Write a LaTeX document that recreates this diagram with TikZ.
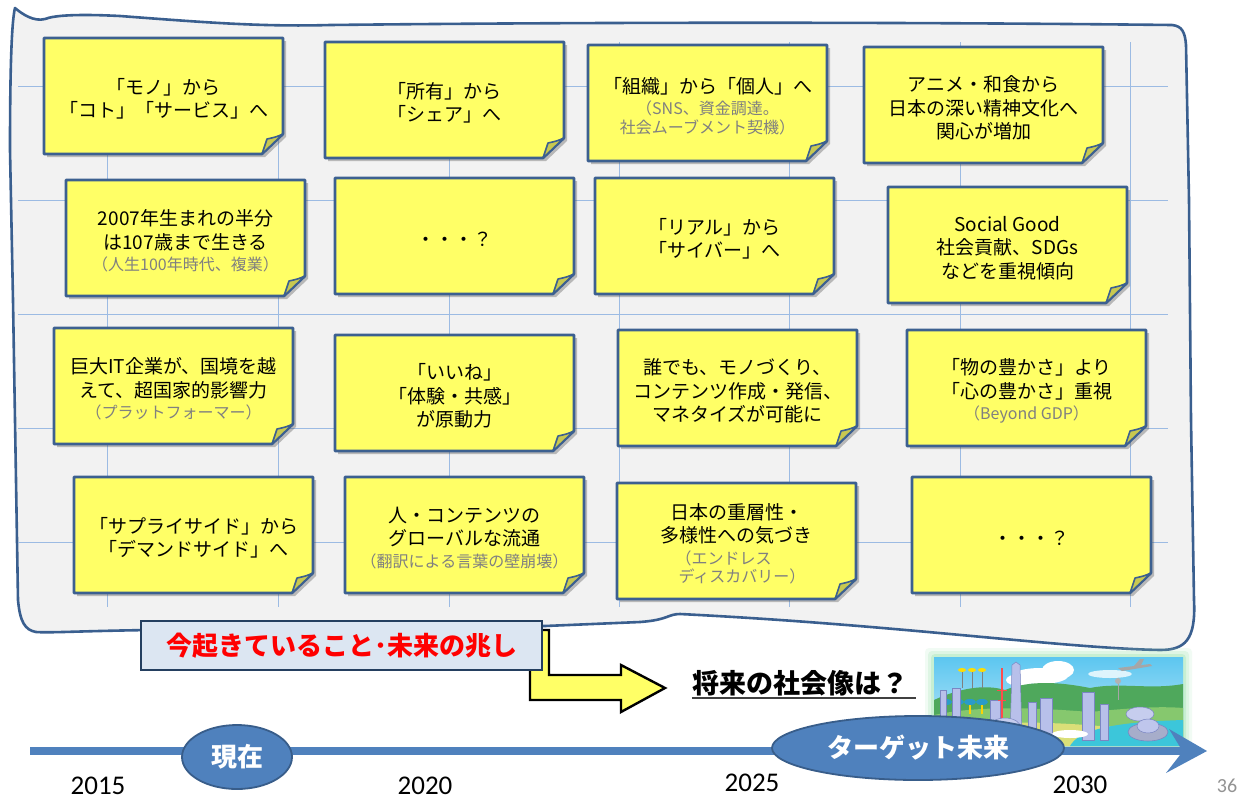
\documentclass[tikz,border=0pt]{standalone}
\usepackage{fontspec}
\setmainfont{Noto Sans CJK JP}
\newfontfamily\yearfont{Carlito}
\usetikzlibrary{shapes.geometric,shadows}

\definecolor{boardfill}{HTML}{F2F2F2}
\definecolor{boardline}{HTML}{3A5F8F}
\definecolor{gridline}{HTML}{9CBBE3}
\definecolor{notefill}{HTML}{FFFF66}
\definecolor{noteline}{HTML}{3C6090}
\definecolor{notefoldc}{HTML}{C8C850}
\definecolor{notegray}{HTML}{808080}
\definecolor{tagfill}{HTML}{DCE6F2}
\definecolor{tagline}{HTML}{243F60}
\definecolor{timeblue}{HTML}{4F81BD}
\definecolor{timeedge}{HTML}{385D8A}
\definecolor{sky1}{HTML}{5CC6F0}
\definecolor{sky2}{HTML}{C8ECF8}
\definecolor{hillfar}{HTML}{4FA85C}
\definecolor{hillnear}{HTML}{86C86E}
\definecolor{groundc}{HTML}{DADF78}
\definecolor{waterc}{HTML}{3CC6DA}
\definecolor{bldg}{HTML}{B8C0EA}
\definecolor{bldgedge}{HTML}{7A86C2}
\definecolor{glowc}{HTML}{A6E6B8}

\tikzset{
  notepaper/.style={fill=notefill, draw=noteline, line width=2.6pt, line join=round,
    drop shadow={shadow xshift=3pt, shadow yshift=-3pt, opacity=0.35, fill=black!70}},
  notefold/.style={fill=notefoldc, draw=noteline, line width=1.6pt, line join=round},
  notetext/.style={align=center, inner sep=0pt, font=\fontsize{19}{23.5}\selectfont},
  gridrule/.style={draw=gridline, line width=0.9pt},
  tagbox/.style={draw=tagline, fill=tagfill, line width=2.6pt, minimum width=401pt,
    minimum height=49pt, inner sep=0pt, text=red, font=\bfseries\fontsize{26}{30}\selectfont},
  era/.style={ellipse, draw=timeedge, fill=timeblue, line width=1.8pt, inner sep=0pt,
    text=white, font=\bfseries\fontsize{26}{30}\selectfont},
  yearlabel/.style={font=\yearfont\fontsize{27}{30}\selectfont, inner sep=0pt}
}

\newcommand{\gtxt}[1]{{\fontsize{16}{19}\selectfont\color{notegray}#1}}
% sticky note: name, left, top, text (coordinates in pixels, y downwards)
\newcommand{\stickynote}[4]{%
  \path[notepaper] (#2,#3) -- (#2+239,#3) -- (#2+239,#3+96) -- (#2+218,#3+116) -- (#2,#3+116) -- cycle;
  \path[notefold] (#2+239,#3+96) .. controls (#2+232,#3+99) .. (#2+223,#3+101)
     .. controls (#2+221,#3+108) .. (#2+218,#3+116) -- cycle;
  \node[notetext] (#1) at (#2+119.5,#3+61) {#4};
}

\begin{document}
\begin{tikzpicture}[x=1pt,y=-1pt]
\useasboundingbox (0,0) rectangle (1245,801);
\fill[white] (0,0) rectangle (1245,801);

% hand-drawn board
\path[fill=boardfill, draw=boardline, line width=2.6pt, line join=round]
  (15,8) .. controls (22,14) and (34,22) .. (45,19)
  .. controls (55,15) and (80,14) .. (120,16)
  .. controls (200,22) and (260,27) .. (330,25)
  .. controls (600,22) and (900,22) .. (1172,25)
  .. controls (1182,26) and (1185,32) .. (1186,45)
  -- (1189,200) -- (1191,420) -- (1194,600)
  .. controls (1196,640) and (1185,650) .. (1160,650)
  .. controls (1060,648) and (900,625) .. (680,614)
  .. controls (668,614) and (668,620) .. (640,622)
  -- (545,626) -- (150,630)
  .. controls (80,631) and (50,633) .. (36,632)
  .. controls (25,630) and (20,622) .. (18,600)
  -- (13,300) -- (10,150)
  .. controls (10,60) and (12,20) .. (15,8) -- cycle;

% grid behind the notes
\foreach \gx in {107,278,449,619,789,960,1130}
  \draw[gridrule] (\gx,42) -- (\gx,607);
\foreach \gy in {86,200,314,428,542}
  \draw[gridrule] (18,\gy) -- (1168,\gy);

% notes, row 1
\stickynote{n1}{44}{38}{「モノ」から\\「コト」「サービス」へ}
\stickynote{n2}{325}{42}{「所有」から\\「シェア」へ}
\stickynote{n3}{588}{45}{「組織」から「個人」へ\\[-2pt]\gtxt{（SNS、資金調達。}\\[-5pt]\gtxt{社会ムーブメント契機）}}
\stickynote{n4}{864}{47}{アニメ・和食から\\日本の深い精神文化へ\\関心が増加}
% row 2
\stickynote{n5}{66}{180}{2007年生まれの半分\\は107歳まで生きる\\[-2pt]\gtxt{（人生100年時代、複業）}}
\stickynote{n6}{335}{178}{・・・？}
\stickynote{n7}{595}{178}{「リアル」から\\「サイバー」へ}
\stickynote{n8}{888}{187}{Social Good\\社会貢献、SDGs\\などを重視傾向}
% row 3
\stickynote{n9}{54}{328}{巨大IT企業が、国境を越\\えて、超国家的影響力\\[-2pt]\gtxt{（プラットフォーマー）}}
\stickynote{n10}{335}{335}{「いいね」\\「体験・共感」\\が原動力}
\stickynote{n11}{618}{330}{誰でも、モノづくり、\\コンテンツ作成・発信、\\マネタイズが可能に}
\stickynote{n12}{907}{330}{「物の豊かさ」より\\「心の豊かさ」重視\\[-2pt]\gtxt{（Beyond GDP）}}
% row 4
\stickynote{n13}{74}{477}{「サプライサイド」から\\「デマンドサイド」へ}
\stickynote{n14}{345}{477}{人・コンテンツの\\グローバルな流通\\[-2pt]\gtxt{（翻訳による言葉の壁崩壊）}}
\stickynote{n15}{617}{483}{日本の重層性・\\多様性への気づき\\[-2pt]\gtxt{\makebox[122pt][l]{（エンドレス}}\\[-5pt]\gtxt{\makebox[122pt][l]{\hspace{3pt}ディスカバリー）}}}
\stickynote{n16}{912}{477}{・・・？}

% bent arrow towards the question
\path[fill=notefill, draw=black, line width=2.4pt, line join=miter]
  (530,630) -- (530,700) -- (621,700) -- (621,712) -- (665,688)
  -- (621,665) -- (621,675) -- (549,675) -- (549,630) -- cycle;

% caption box
\node[tagbox] (now) at (341.5,645.5) {今起きていること･未来の兆し};

% question
\node[inner sep=0pt, font=\bfseries\fontsize{27}{30}\selectfont] (future) at (800,683) {将来の社会像は？};
\draw[line width=1.8pt, draw=black!75] ([yshift=-5pt]future.base west) -- ([xshift=8pt,yshift=-5pt]future.base east);

% future city illustration
\foreach \gw/\go in {9/0.15,6/0.25,3/0.4}
  \fill[glowc, opacity=\go, rounded corners=4pt] (934-\gw,657-\gw) rectangle (1183+\gw,746+\gw);
\begin{scope}
  \clip (934,657) rectangle (1183,746);
  \fill[top color=sky1, bottom color=sky2] (934,657) rectangle (1183,746);
  \fill[white] (1040,676) ellipse [x radius=28, y radius=8];
  \fill[white] (1058,670) ellipse [x radius=16, y radius=9];
  \fill[white] (1020,680) ellipse [x radius=14, y radius=6];
  \fill[white!80!sky1] (1110,674) ellipse [x radius=22, y radius=4];
  % airplane
  \fill[gray!70] (1118,668) -- (1150,664) -- (1152,666) -- (1122,671) -- cycle;
  \fill[gray!70] (1134,666) -- (1140,659) -- (1144,659) -- (1140,667) -- cycle;
  % hills
  \fill[hillfar] (934,700) .. controls (960,688) and (985,684) .. (1005,690)
    .. controls (1030,680) and (1060,682) .. (1090,688)
    .. controls (1120,682) and (1150,690) .. (1183,684) -- (1183,746) -- (934,746) -- cycle;
  \fill[hillnear] (934,715) .. controls (980,705) and (1040,708) .. (1090,712)
    .. controls (1130,708) and (1160,706) .. (1183,708) -- (1183,746) -- (934,746) -- cycle;
  \fill[groundc] (934,728) .. controls (990,720) and (1050,722) .. (1100,726)
    -- (1183,730) -- (1183,746) -- (934,746) -- cycle;
  \fill[waterc] (1070,746) .. controls (1080,728) and (1120,722) .. (1183,720) -- (1183,746) -- cycle;
  % trees with round tops
  \foreach \tx in {946,958,970,982}
    { \draw[yellow!70!orange, line width=1.2pt] (\tx,702) -- (\tx,714);
      \fill[cyan!60!teal] (\tx,702) ellipse [x radius=6, y radius=3]; }
  % buildings
  \foreach \bx/\btop/\bw in {940/690/6,952/688/8,990/700/10,1028/702/8,1040/698/12,1082/692/12,1100/704/8}
    \filldraw[fill=bldg, draw=bldgedge, line width=0.5pt] (\bx,\btop) rectangle (\bx+\bw,740);
  \filldraw[fill=bldg, draw=bldgedge, line width=0.5pt] (1012,665) -- (1016,662) -- (1020,665) -- (1022,740) -- (1010,740) -- cycle;
  \draw[red!70, line width=1.2pt] (1002,668) -- (1002,725);
  \draw[red!70, line width=0.8pt] (997,690) -- (1007,690) (998,700) -- (1006,700);
  \draw[gray!70, line width=1pt] (1118,682) -- (1118,700);
  \fill[gray!60] (1118,681) circle (3);
  \filldraw[fill=bldg!80!white, draw=bldgedge, line width=0.5pt] (1140,714) ellipse [x radius=14, y radius=7];
  \filldraw[fill=bldg!70!gray, draw=bldgedge, line width=0.6pt] (1148,732) ellipse [x radius=20, y radius=9];
  \filldraw[fill=bldg!90!white, draw=bldgedge, line width=0.5pt] (1148,726) ellipse [x radius=11, y radius=7];
  \filldraw[fill=bldg!80!white, draw=bldgedge, line width=0.5pt] (1005,728) ellipse [x radius=16, y radius=10];
  \fill[white] (1070,734) ellipse [x radius=18, y radius=4];
  % propellers on poles
  \foreach \px in {962,972,982}
    { \draw[gray, line width=0.8pt] (\px,672) -- (\px,688);
      \fill[yellow!80!orange] (\px,670) ellipse [x radius=4, y radius=2]; }
\end{scope}

% time line
\coordinate (tstart) at (30,751);
\coordinate (tend) at (1207,751);
\fill[timeblue] (30,747) rectangle (1180,755);
\fill[timeblue] (1180,747) -- (1169,729) -- (tend) -- (1166,773) -- (1180,755) -- cycle;

\node[era, minimum width=110pt, minimum height=64pt] (present) at (237,757) {現在};
\node[era, minimum width=292pt, minimum height=64pt] (target) at (918,748) {ターゲット未来};

\node[yearlabel] (y2015) at (98,786) {2015};
\node[yearlabel] (y2020) at (425,786) {2020};
\node[yearlabel] (y2025) at (752,783) {2025};
\node[yearlabel] (y2030) at (1080,785) {2030};
\node[font=\yearfont\fontsize{20}{24}\selectfont, text=gray!85, inner sep=0pt] (page) at (1227,786) {36};
\end{tikzpicture}
\end{document}
